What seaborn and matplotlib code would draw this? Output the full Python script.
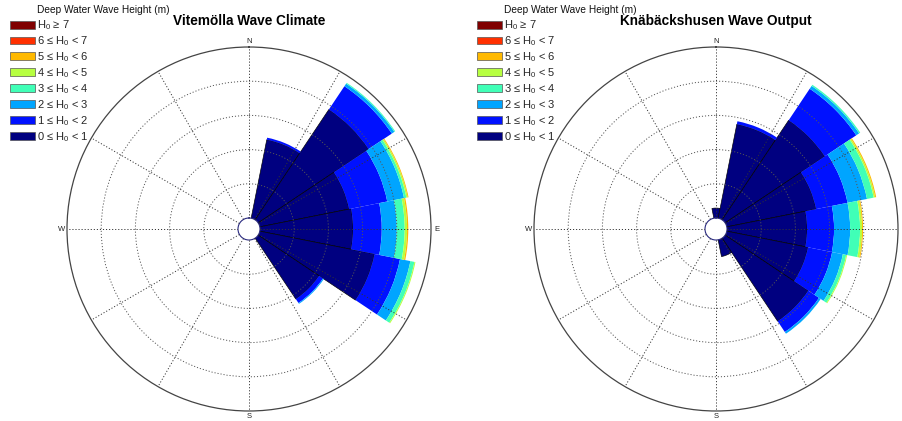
import numpy as np
import matplotlib
matplotlib.use("Agg")
import matplotlib.pyplot as plt
from matplotlib.patches import Patch
import seaborn as sns

# Compass sectors (degrees clockwise from north), 16 bins of 22.5 degrees
directions = np.arange(0, 360, 22.5)
sector_width = 22.5

class_labels = [
    "0 \u2264 H$_0$ < 1",
    "1 \u2264 H$_0$ < 2",
    "2 \u2264 H$_0$ < 3",
    "3 \u2264 H$_0$ < 4",
    "4 \u2264 H$_0$ < 5",
    "5 \u2264 H$_0$ < 6",
    "6 \u2264 H$_0$ < 7",
    "H$_0$ \u2265 7",
]

# Vitemölla wave climate: frequency per sector for each height class
#                N    NNE   NE    ENE   E     ESE   SE    SSE  S  ... NNW
vit_h0_1 = [0.0, 11.7, 19.4, 13.3, 13.6, 17.1, 10.7, 0.0, 0, 0, 0, 0, 0, 0, 0, 0]
vit_h1_2 = [0.0, 0.3, 4.1, 5.7, 4.2, 3.8, 0.7, 0.0, 0, 0, 0, 0, 0, 0, 0, 0]
vit_h2_3 = [0.0, 0.0, 0.45, 2.5, 2.2, 1.55, 0.15, 0.0, 0, 0, 0, 0, 0, 0, 0, 0]
vit_h3_4 = [0.0, 0.0, 0.15, 0.35, 1.15, 0.6, 0.0, 0.0, 0, 0, 0, 0, 0, 0, 0, 0]
vit_h4_5 = [0.0, 0.0, 0.0, 0.2, 0.35, 0.15, 0.0, 0.0, 0, 0, 0, 0, 0, 0, 0, 0]
vit_h5_6 = [0.0, 0.0, 0.0, 0.12, 0.18, 0.0, 0.0, 0.0, 0, 0, 0, 0, 0, 0, 0, 0]
vit_h6_7 = [0.0] * 16
vit_h7 = [0.0] * 16

# Knäbäckshusen wave output
kna_h0_1 = [1.45, 14.0, 17.5, 13.3, 11.7, 12.1, 14.6, 2.5, 0, 0, 0, 0, 0, 0, 0, 0]
kna_h1_2 = [0.0, 0.45, 5.55, 4.7, 3.95, 3.6, 1.9, 0.0, 0, 0, 0, 0, 0, 0, 0, 0]
kna_h2_3 = [0.0, 0.0, 0.5, 2.9, 2.35, 1.6, 0.3, 0.0, 0, 0, 0, 0, 0, 0, 0, 0]
kna_h3_4 = [0.0, 0.0, 0.2, 1.0, 1.45, 0.5, 0.0, 0.0, 0, 0, 0, 0, 0, 0, 0, 0]
kna_h4_5 = [0.0, 0.0, 0.0, 0.22, 0.3, 0.14, 0.0, 0.0, 0, 0, 0, 0, 0, 0, 0, 0]
kna_h5_6 = [0.0, 0.0, 0.0, 0.15, 0.14, 0.0, 0.0, 0.0, 0, 0, 0, 0, 0, 0, 0, 0]
kna_h6_7 = [0.0] * 16
kna_h7 = [0.0] * 16

vitemolla = [vit_h0_1, vit_h1_2, vit_h2_3, vit_h3_4, vit_h4_5, vit_h5_6, vit_h6_7, vit_h7]
knabackshusen = [kna_h0_1, kna_h1_2, kna_h2_3, kna_h3_4, kna_h4_5, kna_h5_6, kna_h6_7, kna_h7]

ring_values = [5, 10, 15, 20]
r_max = 25
hole = 1.61

sns.set_theme(style="white")
plt.rcParams["font.family"] = ["Liberation Sans", "DejaVu Sans"]
plt.rcParams["mathtext.fontset"] = "custom"
plt.rcParams["mathtext.rm"] = "Liberation Sans"
plt.rcParams["mathtext.it"] = "Liberation Sans:italic"
plt.rcParams["lines.scale_dashes"] = False

jet = matplotlib.colormaps["jet"]
palette = sns.color_palette([jet(x) for x in np.linspace(0, 1, 8)])

W, H = 903, 421
fig = plt.figure(figsize=(W / 100, H / 100), dpi=100)
fig.patch.set_facecolor("white")

R = 182
cy = 229
dots = (0, (0.8, 1.4))


def draw_rose(cx, title, classes):
    ax = fig.add_axes([(cx - R) / W, (H - cy - R) / H, 2 * R / W, 2 * R / H],
                      projection="polar")
    ax.set_theta_zero_location("N")
    ax.set_theta_direction(-1)
    ax.set_facecolor("white")

    theta = np.deg2rad(directions)
    width = np.deg2rad(sector_width)
    bottom = np.zeros(len(directions))
    for k, (vals, color) in enumerate(zip(classes, palette)):
        vals = np.asarray(vals, dtype=float)
        m = vals > 0
        if m.any():
            ax.bar(theta[m], vals[m], width=width, bottom=bottom[m],
                   color=color,
                   edgecolor="black" if k == 0 else "none",
                   linewidth=0.45 if k == 0 else 0, align="center")
        bottom += vals

    ax.set_ylim(0, r_max)
    ax.set_rorigin(-hole)
    ax.set_yticks(ring_values)
    ax.set_yticklabels([])
    ax.set_xticks(np.deg2rad(np.arange(0, 360, 30)))
    ax.set_xticklabels(["N", "", "", "E", "", "", "S", "", "", "W", "", ""])
    ax.tick_params(axis="x", size=0, pad=-3, labelsize=5.5, colors="#222222")
    ax.tick_params(axis="y", size=0)
    ax.set_axisbelow(False)
    ax.xaxis.grid(True, color="#333333", linewidth=0.7, linestyle=dots)
    ax.yaxis.grid(True, color="#555555", linewidth=0.7, linestyle=dots)
    ax.spines["polar"].set_color("#444444")
    ax.spines["polar"].set_linewidth(0.9)
    ax.spines["inner"].set_color("#2a2a80")
    ax.spines["inner"].set_linewidth(0.8)

    fig.text(cx / W, 1 - 21 / H, title, ha="center", va="center",
             fontsize=9.8, fontweight="bold", color="black")

    # legend, highest class at the top
    x0 = cx - 239
    handles = [Patch(facecolor=c, edgecolor="#555555", linewidth=0.5) for c in palette][::-1]
    ax.legend(handles, class_labels[::-1], loc="upper left",
              bbox_to_anchor=(x0 / W, 1 - 18.5 / H), bbox_transform=fig.transFigure,
              frameon=False, fontsize=8, handlelength=2.25, handleheight=0.72,
              handletextpad=0.2, labelspacing=0.19, borderpad=0, borderaxespad=0)
    fig.text((x0 + 27) / W, 1 - 10 / H, "Deep Water Wave Height (m)",
             ha="left", va="center", fontsize=7.3, color="#111111")
    return ax


draw_rose(249, "Vitemölla Wave Climate", vitemolla)
draw_rose(716, "Knäbäckshusen Wave Output", knabackshusen)

fig.savefig("out.png", dpi=100, facecolor="white")
